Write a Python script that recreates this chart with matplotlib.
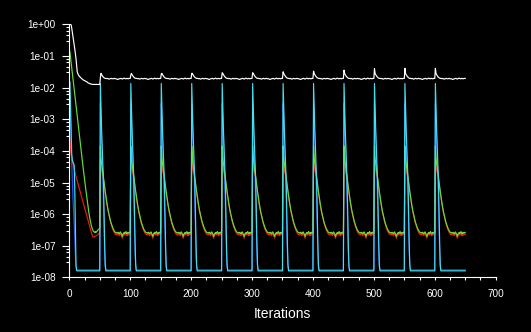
import numpy as np
import matplotlib
matplotlib.use("Agg")
import matplotlib.pyplot as plt
from matplotlib.ticker import FixedLocator, LogLocator, MultipleLocator, FuncFormatter

# log10 of the residuals, iterations 1..50 (first run)
white_start = [0.0, 0.0, -0.02, -0.12, -0.25, -0.37, -0.50, -0.63, -0.78, -0.93,
               -1.08, -1.30, -1.50, -1.56, -1.60, -1.63, -1.65, -1.67, -1.69, -1.71,
               -1.73, -1.74, -1.76, -1.77, -1.78, -1.79, -1.80, -1.81, -1.82, -1.84,
               -1.85, -1.86, -1.87, -1.88, -1.88, -1.89, -1.89, -1.90, -1.90, -1.90,
               -1.90, -1.90, -1.90, -1.90, -1.90, -1.90, -1.90, -1.90, -1.90, -1.90]
red_start = [-3.60, -3.95, -4.10, -4.20, -4.30, -4.40, -4.50, -4.58, -4.66, -4.74,
             -4.81, -4.88, -4.95, -5.02, -5.09, -5.16, -5.23, -5.30, -5.37, -5.44,
             -5.51, -5.58, -5.65, -5.72, -5.79, -5.86, -5.93, -6.00, -6.07, -6.14,
             -6.21, -6.28, -6.35, -6.42, -6.50, -6.57, -6.63, -6.68, -6.72, -6.73,
             -6.72, -6.70, -6.69, -6.68, -6.67, -6.66, -6.65, -6.62, -6.60, -6.60]
green_start = [-0.87, -1.04, -1.21, -1.38, -1.55, -1.72, -1.89, -2.06, -2.23, -2.40,
               -2.57, -2.74, -2.91, -3.08, -3.25, -3.42, -3.59, -3.76, -3.93, -4.10,
               -4.26, -4.42, -4.58, -4.74, -4.90, -5.05, -5.20, -5.35, -5.50, -5.65,
               -5.80, -5.93, -6.05, -6.16, -6.26, -6.35, -6.42, -6.48, -6.52, -6.55,
               -6.56, -6.58, -6.55, -6.57, -6.56, -6.52, -6.50, -6.48, -6.47, -6.46]
blue_start = [-2.20, -3.00, -3.80, -4.40, -5.00, -5.50, -5.90, -6.30, -6.80, -7.30,
              -7.65, -7.75, -7.76, -7.76, -7.76, -7.76, -7.76, -7.76, -7.76, -7.76,
              -7.76, -7.76, -7.76, -7.76, -7.76, -7.76, -7.76, -7.76, -7.76, -7.76,
              -7.76, -7.76, -7.76, -7.76, -7.76, -7.76, -7.76, -7.76, -7.76, -7.76,
              -7.76, -7.76, -7.76, -7.76, -7.76, -7.76, -7.76, -7.76, -7.76, -7.76]
cyan_start = [-1.82, -2.60, -3.40, -4.10, -4.30, -4.35, -4.40, -4.45, -5.20, -6.50,
              -7.60, -7.78, -7.79, -7.79, -7.79, -7.79, -7.79, -7.79, -7.79, -7.79,
              -7.79, -7.79, -7.79, -7.79, -7.79, -7.79, -7.79, -7.79, -7.79, -7.79,
              -7.79, -7.79, -7.79, -7.79, -7.79, -7.79, -7.79, -7.79, -7.79, -7.79,
              -7.79, -7.79, -7.79, -7.79, -7.79, -7.79, -7.79, -7.79, -7.79, -7.79]

# log10 of the residuals in each 50-iteration cycle after a restart
white_peaks = [-1.69, -1.60, -1.57, -1.55, -1.53, -1.53, -1.50, -1.48, -1.45, -1.40, -1.39, -1.39]
white_cycle = [-1.55, -1.59, -1.62, -1.65, -1.67, -1.69, -1.70, -1.71, -1.71, -1.71,
               -1.72, -1.71, -1.72, -1.73, -1.73, -1.72, -1.71, -1.71, -1.72, -1.72,
               -1.72, -1.71, -1.71, -1.72, -1.72, -1.72, -1.73, -1.74, -1.74, -1.73,
               -1.72, -1.72, -1.71, -1.71, -1.72, -1.73, -1.72, -1.71, -1.70, -1.71,
               -1.72, -1.72, -1.71, -1.71, -1.72, -1.72, -1.71, -1.71, -1.71]
red_cycle = [-4.30, -4.50, -4.60, -4.70, -4.75, -4.87, -5.01, -5.17, -5.31, -5.45,
             -5.59, -5.71, -5.83, -5.93, -6.01, -6.10, -6.19, -6.27, -6.34, -6.40,
             -6.46, -6.51, -6.55, -6.59, -6.62, -6.64, -6.63, -6.66, -6.64, -6.62,
             -6.65, -6.68, -6.63, -6.61, -6.64, -6.70, -6.76, -6.69, -6.64, -6.62,
             -6.66, -6.64, -6.62, -6.66, -6.68, -6.63, -6.66, -6.62, -6.64, -6.63]
green_cycle = [-3.85, -4.20, -4.40, -4.55, -4.68, -4.82, -4.98, -5.14, -5.28, -5.42,
               -5.56, -5.68, -5.80, -5.90, -5.98, -6.07, -6.16, -6.24, -6.30, -6.36,
               -6.41, -6.46, -6.50, -6.53, -6.56, -6.58, -6.59, -6.58, -6.60, -6.57,
               -6.60, -6.62, -6.58, -6.56, -6.60, -6.64, -6.70, -6.64, -6.60, -6.58,
               -6.61, -6.59, -6.55, -6.60, -6.62, -6.58, -6.60, -6.57, -6.59, -6.58]
blue_cycle = [-2.50, -3.00, -3.60, -4.20, -4.70, -5.50, -6.40, -7.20, -7.65, -7.76,
              -7.76, -7.76, -7.76, -7.76, -7.76, -7.76, -7.76, -7.76, -7.76, -7.76,
              -7.76, -7.76, -7.76, -7.76, -7.76, -7.76, -7.76, -7.76, -7.76, -7.76,
              -7.76, -7.76, -7.76, -7.76, -7.76, -7.76, -7.76, -7.76, -7.76, -7.76,
              -7.76, -7.76, -7.76, -7.76, -7.76, -7.76, -7.76, -7.76, -7.76, -7.76]
cyan_cycle = [-1.87, -2.60, -3.30, -3.90, -4.40, -4.90, -5.90, -6.90, -7.60, -7.79,
              -7.79, -7.79, -7.79, -7.79, -7.79, -7.79, -7.79, -7.79, -7.79, -7.79,
              -7.79, -7.79, -7.79, -7.79, -7.79, -7.79, -7.79, -7.79, -7.79, -7.79,
              -7.79, -7.79, -7.79, -7.79, -7.79, -7.79, -7.79, -7.79, -7.79, -7.79,
              -7.79, -7.79, -7.79, -7.79, -7.79, -7.79, -7.79, -7.79, -7.79, -7.79]

y_ticks = [1e0, 1e-1, 1e-2, 1e-3, 1e-4, 1e-5, 1e-6, 1e-7, 1e-8]

# assemble the full histories (start run + one block per restart)
white = list(white_start)
for p in white_peaks:
    white += [p] + white_cycle
red = list(red_start) + red_cycle * len(white_peaks)
green = list(green_start) + green_cycle * len(white_peaks)
blue = list(blue_start) + blue_cycle * len(white_peaks)
cyan = list(cyan_start) + cyan_cycle * len(white_peaks)
iters = np.arange(1, len(white) + 1)

fig = plt.figure(figsize=(5.31, 3.32), dpi=100, facecolor="black")
ax = fig.add_axes([0.1305, 0.1642, 0.8030, 0.7626], facecolor="black")

lw = 0.85
ax.plot(iters, 10 ** np.array(blue), color="#2050f0", lw=lw)
ax.plot(iters, 10 ** np.array(red), color="#ee1a10", lw=lw)
ax.plot(iters, 10 ** np.array(green), color="#66e033", lw=lw)
ax.plot(iters, 10 ** np.array(cyan), color="#45e0f0", lw=lw)
ax.plot(iters, 10 ** np.array(white), color="white", lw=lw)

ax.set_yscale("log")
ax.set_xlim(0, 700)
ax.set_ylim(1e-8, 1e0)

for s in ["top", "right"]:
    ax.spines[s].set_visible(False)
for s in ["left", "bottom"]:
    ax.spines[s].set_color("white")
    ax.spines[s].set_linewidth(0.8)

tick_font = ["Liberation Sans Narrow", "Liberation Sans", "DejaVu Sans"]

ax.yaxis.set_major_locator(FixedLocator(y_ticks))
ax.yaxis.set_major_formatter(FuncFormatter(lambda v, pos: "%.0e" % v))
ax.yaxis.set_minor_locator(LogLocator(base=10, subs=(3.0, 4.5, 6.3, 8.0)))
ax.xaxis.set_major_locator(MultipleLocator(100))
ax.xaxis.set_minor_locator(MultipleLocator(25))

ax.tick_params(axis="y", which="major", length=5, width=0.8, colors="white", pad=5)
ax.tick_params(axis="y", which="minor", length=2.5, width=0.8, colors="white")
ax.tick_params(axis="x", which="both", length=2.2, width=0.8, colors="white", pad=6)
for lab in ax.get_xticklabels() + ax.get_yticklabels():
    lab.set_family(tick_font)
    lab.set_fontsize(7.2)

ax.set_xlabel("Iterations", color="white", fontsize=10, family=["Liberation Sans", "DejaVu Sans"])
ax.xaxis.set_label_coords(0.5, -0.115)

fig.savefig("out.png", dpi=100, facecolor="black")
